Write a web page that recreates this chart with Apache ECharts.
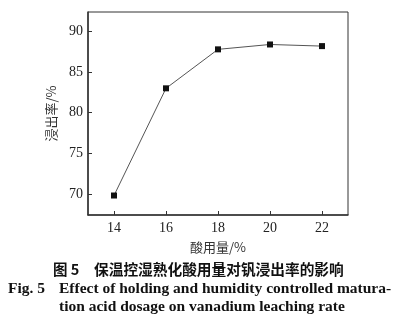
<!DOCTYPE html>
<html>
<head>
<meta charset="utf-8">
<script src="https://cdn.jsdelivr.net/npm/echarts@6/dist/echarts.min.js"></script>
<style>
html,body{margin:0;padding:0;background:#fff;}
#c{width:412px;height:322px;}
</style>
</head>
<body>
<div id="c"></div>
<script>
var acidDosage = [14, 16, 18, 20, 22];
var leachingRate = [69.8, 83.0, 87.8, 88.4, 88.2];
var xTicks = [14, 16, 18, 20, 22];
var yTicks = [70, 75, 80, 85, 90];
var xName = '酸用量/%';
var yName = '浸出率/%';
var captionCn1 = '图 5';
var captionCn2 = '保温控湿熟化酸用量对钒浸出率的影响';
var captionEnFig = 'Fig. 5';
var captionEn1 = 'Effect of holding and humidity controlled matura-';
var captionEn2 = 'tion acid dosage on vanadium leaching rate';

var chart = echarts.init(document.getElementById('c'));
var serif = '"Liberation Serif", "DejaVu Serif", serif';
var cjk = '"Noto Sans CJK SC", sans-serif';
chart.setOption({
  animation: false,
  backgroundColor: '#fff',
  grid: {left: 88, right: 64, top: 12, bottom: 107, show: true, borderColor: '#333', borderWidth: 1, backgroundColor: 'transparent'},
  xAxis: {
    type: 'value', min: 13, max: 23,
    name: xName, nameLocation: 'middle', nameGap: 26,
    nameTextStyle: {fontFamily: cjk, fontSize: 13, color: '#333'},
    axisLine: {show: true, lineStyle: {color: '#333', width: 1.5}},
    axisTick: {show: true, inside: true, length: 4, customValues: xTicks, lineStyle: {color: '#333'}},
    axisLabel: {customValues: xTicks, margin: 6, fontFamily: serif, fontSize: 14, color: '#222'},
    splitLine: {show: false}
  },
  yAxis: {
    type: 'value', min: 67.4, max: 92.4,
    name: yName, nameLocation: 'middle', nameGap: 30,
    nameTextStyle: {fontFamily: cjk, fontSize: 13, color: '#333'},
    axisLine: {show: true, lineStyle: {color: '#333', width: 1.5}},
    axisTick: {show: true, inside: true, length: 4, customValues: yTicks, lineStyle: {color: '#333'}},
    axisLabel: {customValues: yTicks, margin: 5, fontFamily: serif, fontSize: 14, color: '#222'},
    splitLine: {show: false}
  },
  series: [{
    type: 'line',
    data: acidDosage.map(function(x, i){ return [x, leachingRate[i]]; }),
    symbol: 'rect', symbolSize: 6,
    itemStyle: {color: '#111'},
    lineStyle: {color: '#555', width: 1}
  }],
  graphic: [
    {type: 'text', left: 53, top: 262, style: {text: captionCn1, font: 'bold 14.5px ' + cjk, fill: '#111'}},
    {type: 'text', left: 94, top: 262, style: {text: captionCn2, font: 'bold 14.7px ' + cjk, fill: '#111'}},
    {type: 'text', left: 8, top: 281, style: {text: captionEnFig, font: 'bold 15.5px ' + serif, fill: '#111'}},
    {type: 'text', left: 59, top: 281, style: {text: captionEn1, font: 'bold 15.5px ' + serif, fill: '#111'}},
    {type: 'text', left: 59, top: 299, style: {text: captionEn2, font: 'bold 15.5px ' + serif, fill: '#111'}}
  ]
});
</script>
</body>
</html>
